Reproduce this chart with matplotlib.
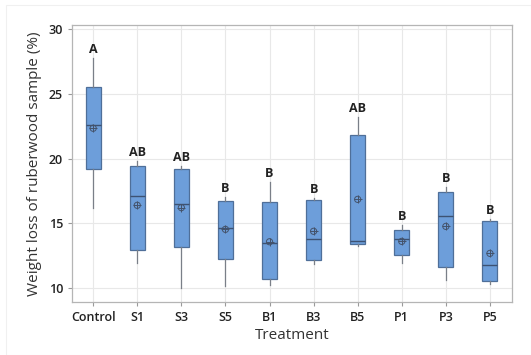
import matplotlib
matplotlib.use("Agg")
import matplotlib.pyplot as plt
from matplotlib.patches import Rectangle

# Weight loss (%) per treatment: box-plot summary statistics
treatments = ["Control", "S1", "S3", "S5", "B1", "B3", "B5", "P1", "P3", "P5"]
whisker_low = [16.15, 11.94, 10.00, 10.16, 10.20, 11.83, 13.25, 11.94, 10.62, 10.26]
q1 = [19.21, 12.89, 13.15, 12.22, 10.67, 12.17, 13.41, 12.56, 11.63, 10.54]
median = [22.57, 17.07, 16.45, 14.64, 13.44, 13.74, 13.64, 13.80, 15.57, 11.78]
q3 = [25.50, 19.42, 19.19, 16.69, 16.61, 16.79, 21.80, 14.47, 17.43, 15.19]
whisker_high = [27.75, 19.83, 19.45, 17.04, 18.16, 16.97, 23.24, 14.85, 17.82, 15.32]
mean = [22.34, 16.38, 16.20, 14.52, 13.56, 14.37, 16.84, 13.59, 14.75, 12.66]
groups = ["A", "AB", "AB", "B", "B", "B", "AB", "B", "B", "B"]

plt.rcParams["font.family"] = ["Open Sans", "DejaVu Sans"]

fig = plt.figure(figsize=(5.31, 3.55), dpi=100)
fig.patches.append(Rectangle((0.012, 0.0), 0.988, 0.985, transform=fig.transFigure,
                             fill=False, edgecolor="#f0f0f0", linewidth=0.8))
ax = fig.add_axes([0.1356, 0.1493, 0.8286, 0.7803])

stats = []
for i, name in enumerate(treatments):
    stats.append(dict(label=name, whislo=whisker_low[i], q1=q1[i], med=median[i],
                      q3=q3[i], whishi=whisker_high[i], fliers=[]))

positions = list(range(len(treatments)))
ax.bxp(stats, positions=positions, widths=0.34, patch_artist=True, showcaps=False,
       boxprops=dict(facecolor="#6d9eda", edgecolor="#4f6f99", linewidth=0.9),
       medianprops=dict(color="#3d5273", linewidth=1.0),
       whiskerprops=dict(color="#7a7f88", linewidth=0.9),
       zorder=3)

# mean symbols (circle with cross)
ax.scatter(positions, mean, s=20, facecolors="none", edgecolors="#44536b",
           linewidths=0.7, zorder=4)
ax.scatter(positions, mean, s=32, marker="+", color="#44536b", linewidths=0.7, zorder=4)

# grouping letters above each box
for x, top, g in zip(positions, whisker_high, groups):
    ax.text(x, top + 0.15, g, ha="center", va="bottom", fontsize=9,
            fontweight="bold", color="#222222")

ax.set_xlim(-0.48, 9.5)
ax.set_ylim(8.9, 30.33)
ax.set_yticks([10, 15, 20, 25, 30])
ax.set_xticks(positions)
ax.set_xticklabels(treatments)
ax.grid(True, color="#e8e8e8", linewidth=0.8, zorder=0)
ax.set_axisbelow(True)

for s in ax.spines.values():
    s.set_color("#b5b5b5")
    s.set_linewidth(0.9)

ax.tick_params(axis="both", colors="#9a9a9a", length=3, width=0.8, labelsize=9,
               labelcolor="#222222")
for lbl in ax.get_xticklabels() + ax.get_yticklabels():
    lbl.set_fontweight("semibold")

ax.set_xlabel("Treatment", fontsize=11, color="#333333", labelpad=3)
ax.set_ylabel("Weight loss of ruberwood sample (%)", fontsize=11, color="#333333",
              labelpad=5)

fig.savefig("out.png", dpi=100)
